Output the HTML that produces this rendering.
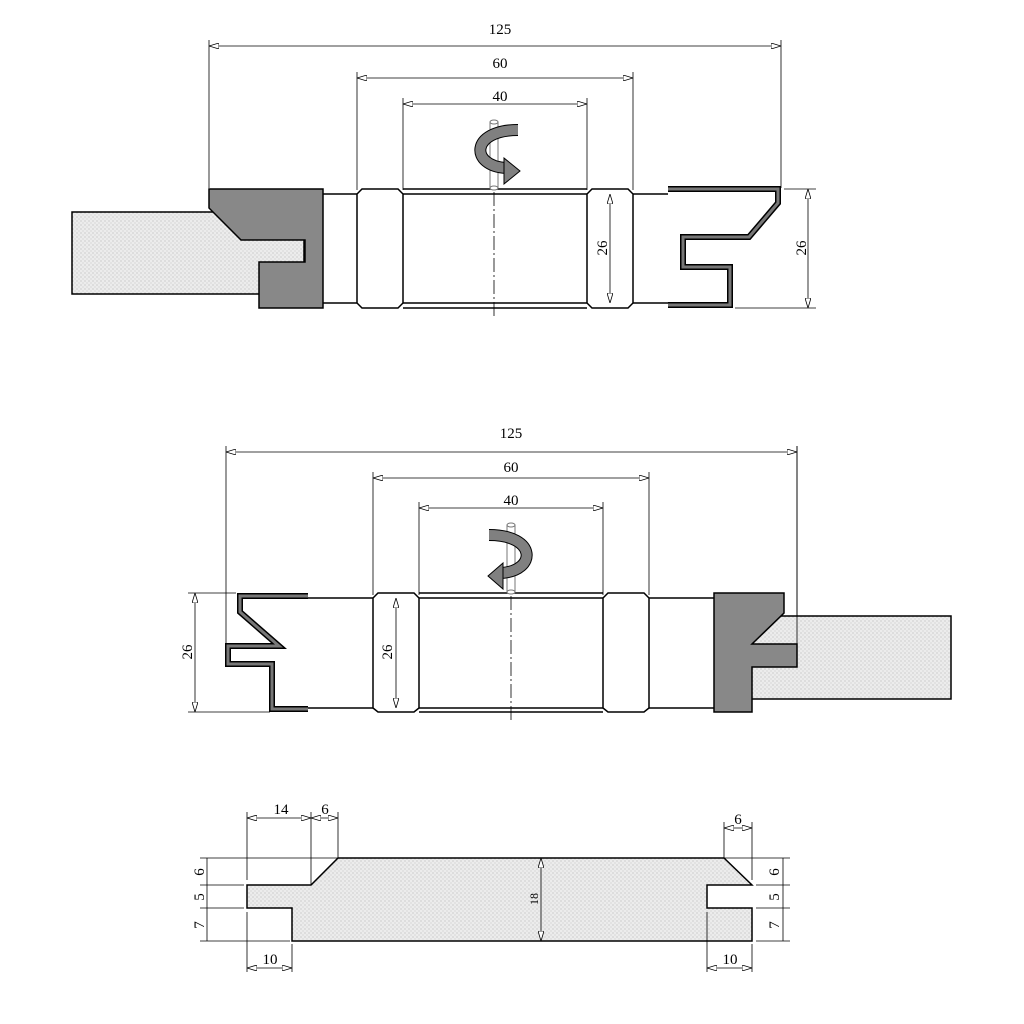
<!DOCTYPE html>
<html><head><meta charset="utf-8"><style>
html,body{margin:0;padding:0;background:#fff;}
svg{display:block;}
text{font-family:"Liberation Serif",serif;font-size:15px;fill:#000;}
</style></head><body>
<svg width="1024" height="1024" viewBox="0 0 1024 1024" xmlns="http://www.w3.org/2000/svg">
<defs>
<pattern id="dots" width="4" height="4" patternUnits="userSpaceOnUse">
<rect width="4" height="4" fill="#ececec"/>
<circle cx="1" cy="1" r="0.6" fill="#b8b8b8"/>
<circle cx="3" cy="3" r="0.6" fill="#c8c8c8"/>
</pattern>
<marker id="a" viewBox="0 0 10 6" refX="10" refY="3" markerWidth="10" markerHeight="6" orient="auto-start-reverse" markerUnits="userSpaceOnUse">
<path d="M0,0 L10,3 L0,6 Z" fill="#fff" stroke="#000" stroke-width="0.8"/>
</marker>
</defs>

<!-- ================= TOP DIAGRAM ================= -->
<g stroke="#000" stroke-width="0.8" fill="none">
<line x1="209" y1="40" x2="209" y2="188"/>
<line x1="781" y1="40" x2="781" y2="188"/>
<line x1="357" y1="72" x2="357" y2="190"/>
<line x1="633" y1="72" x2="633" y2="190"/>
<line x1="403" y1="98" x2="403" y2="190"/>
<line x1="587" y1="98" x2="587" y2="190"/>
<line x1="209" y1="46" x2="781" y2="46" marker-start="url(#a)" marker-end="url(#a)"/>
<line x1="357" y1="78" x2="633" y2="78" marker-start="url(#a)" marker-end="url(#a)"/>
<line x1="403" y1="104" x2="587" y2="104" marker-start="url(#a)" marker-end="url(#a)"/>
</g>
<text x="500" y="34" text-anchor="middle">125</text>
<text x="500" y="68" text-anchor="middle">60</text>
<text x="500" y="101" text-anchor="middle">40</text>

<!-- workpiece -->
<rect x="72" y="212" width="232" height="82" fill="url(#dots)" stroke="#000" stroke-width="1.5"/>
<!-- gray cutter -->
<path d="M209,189 L323,189 L323,308 L259,308 L259,262 L305,262 L305,240 L241,240 L209,208 Z" fill="#888" stroke="#000" stroke-width="1.5"/>
<!-- body -->
<g stroke="#000" stroke-width="1.5" fill="none">
<line x1="323" y1="194" x2="357" y2="194"/>
<line x1="323" y1="303" x2="357" y2="303"/>
<path d="M362,189 L398,189 L403,194 L403,303 L398,308 L362,308 L357,303 L357,194 Z"/>
<line x1="403" y1="189" x2="587" y2="189"/>
<line x1="403" y1="194" x2="587" y2="194"/>
<line x1="403" y1="303" x2="587" y2="303"/>
<line x1="403" y1="308" x2="587" y2="308"/>
<path d="M592,189 L628,189 L633,194 L633,303 L628,308 L592,308 L587,303 L587,194 Z"/>
<line x1="633" y1="194" x2="668" y2="194"/>
<line x1="633" y1="303" x2="668" y2="303"/>
</g>
<!-- right cutter outline -->
<path d="M668,189 L778,189 L778,203 L749,237 L683,237 L683,267 L730,267 L730,305 L668,305" fill="none" stroke="#000" stroke-width="6"/>
<path d="M668,189 L778,189 L778,203 L749,237 L683,237 L683,267 L730,267 L730,305 L668,305" fill="none" stroke="#777" stroke-width="3"/>
<!-- dims 26 -->
<g stroke="#000" stroke-width="0.8">
<line x1="784" y1="189" x2="816" y2="189"/>
<line x1="735" y1="308" x2="816" y2="308"/>
<line x1="808" y1="189" x2="808" y2="308" marker-start="url(#a)" marker-end="url(#a)"/>
<line x1="610" y1="194" x2="610" y2="303" marker-start="url(#a)" marker-end="url(#a)"/>
<line x1="494" y1="192" x2="494" y2="318" stroke-dasharray="14,3,2,3"/>
</g>
<text transform="translate(806,248) rotate(-90)" text-anchor="middle">26</text>
<text transform="translate(607,248) rotate(-90)" text-anchor="middle">26</text>
<!-- spindle & rotation arrow -->
<g>
<rect x="490" y="122" width="8" height="66" fill="#fff" stroke="#777" stroke-width="1"/>
<ellipse cx="494" cy="122" rx="4" ry="2" fill="#fff" stroke="#777" stroke-width="1"/>
<ellipse cx="494" cy="188" rx="4" ry="2" fill="#fff" stroke="#777" stroke-width="1"/>
<path d="M518,130 C470,130 470,166 506,168" fill="none" stroke="#000" stroke-width="12"/>
<path d="M518,130 C470,130 470,166 506,168" fill="none" stroke="#808080" stroke-width="10"/>
<polygon points="504,158 520,171 504,184" fill="#808080" stroke="#000" stroke-width="1"/>
</g>

<!-- ================= MIDDLE DIAGRAM ================= -->
<g stroke="#000" stroke-width="0.8" fill="none">
<line x1="226" y1="446" x2="226" y2="645"/>
<line x1="797" y1="446" x2="797" y2="644"/>
<line x1="373" y1="472" x2="373" y2="595"/>
<line x1="649" y1="472" x2="649" y2="595"/>
<line x1="419" y1="502" x2="419" y2="595"/>
<line x1="603" y1="502" x2="603" y2="595"/>
<line x1="226" y1="452" x2="797" y2="452" marker-start="url(#a)" marker-end="url(#a)"/>
<line x1="373" y1="478" x2="649" y2="478" marker-start="url(#a)" marker-end="url(#a)"/>
<line x1="419" y1="508" x2="603" y2="508" marker-start="url(#a)" marker-end="url(#a)"/>
</g>
<text x="511" y="438" text-anchor="middle">125</text>
<text x="511" y="472" text-anchor="middle">60</text>
<text x="511" y="505" text-anchor="middle">40</text>

<rect x="750" y="616" width="201" height="83" fill="url(#dots)" stroke="#000" stroke-width="1.5"/>
<path d="M714,593 L784,593 L784,613 L752,644 L797,644 L797,667 L752,667 L752,712 L714,712 Z" fill="#888" stroke="#000" stroke-width="1.5"/>
<line x1="797" y1="446" x2="797" y2="644" stroke="#000" stroke-width="0.8"/>
<g stroke="#000" stroke-width="1.5" fill="none">
<line x1="308" y1="598" x2="373" y2="598"/>
<line x1="308" y1="708" x2="373" y2="708"/>
<path d="M378,593 L414,593 L419,598 L419,708 L414,712 L378,712 L373,708 L373,598 Z"/>
<line x1="419" y1="593" x2="603" y2="593"/>
<line x1="419" y1="598" x2="603" y2="598"/>
<line x1="419" y1="708" x2="603" y2="708"/>
<line x1="419" y1="712" x2="603" y2="712"/>
<path d="M608,593 L644,593 L649,598 L649,708 L644,712 L608,712 L603,708 L603,598 Z"/>
<line x1="649" y1="598" x2="714" y2="598"/>
<line x1="649" y1="708" x2="714" y2="708"/>
</g>
<path d="M308,596 L240,596 L240,612 L279,646 L228,646 L228,664 L272,664 L272,709 L308,709" fill="none" stroke="#000" stroke-width="6"/>
<path d="M308,596 L240,596 L240,612 L279,646 L228,646 L228,664 L272,664 L272,709 L308,709" fill="none" stroke="#777" stroke-width="3"/>
<g stroke="#000" stroke-width="0.8">
<line x1="188" y1="593" x2="236" y2="593"/>
<line x1="188" y1="712" x2="270" y2="712"/>
<line x1="195" y1="593" x2="195" y2="712" marker-start="url(#a)" marker-end="url(#a)"/>
<line x1="396" y1="598" x2="396" y2="708" marker-start="url(#a)" marker-end="url(#a)"/>
<line x1="511" y1="596" x2="511" y2="722" stroke-dasharray="14,3,2,3"/>
</g>
<text transform="translate(192,652) rotate(-90)" text-anchor="middle">26</text>
<text transform="translate(392,652) rotate(-90)" text-anchor="middle">26</text>
<g>
<rect x="507" y="525" width="8" height="67" fill="#fff" stroke="#777" stroke-width="1"/>
<ellipse cx="511" cy="525" rx="4" ry="2" fill="#fff" stroke="#777" stroke-width="1"/>
<ellipse cx="511" cy="592" rx="4" ry="2" fill="#fff" stroke="#777" stroke-width="1"/>
<path d="M489,535 C537,535 537,571 501,573" fill="none" stroke="#000" stroke-width="12"/>
<path d="M489,535 C537,535 537,571 501,573" fill="none" stroke="#808080" stroke-width="10"/>
<polygon points="503,563 488,576 503,589" fill="#808080" stroke="#000" stroke-width="1"/>
</g>

<!-- ================= BOTTOM BOARD ================= -->
<path d="M338,858 L724,858 L752,885 L707,885 L707,908 L752,908 L752,941 L292,941 L292,908 L247,908 L247,885 L311,885 Z" fill="url(#dots)" stroke="#000" stroke-width="1.5"/>
<g stroke="#000" stroke-width="0.8" fill="none">
<line x1="200" y1="858" x2="338" y2="858"/>
<line x1="200" y1="885" x2="244" y2="885"/>
<line x1="200" y1="908" x2="244" y2="908"/>
<line x1="200" y1="941" x2="290" y2="941"/>
<line x1="724" y1="858" x2="790" y2="858"/>
<line x1="756" y1="885" x2="790" y2="885"/>
<line x1="756" y1="908" x2="790" y2="908"/>
<line x1="756" y1="941" x2="790" y2="941"/>
<line x1="207" y1="858" x2="207" y2="941"/>
<line x1="783" y1="858" x2="783" y2="941"/>
<line x1="247" y1="812" x2="247" y2="880"/>
<line x1="247" y1="912" x2="247" y2="972"/>
<line x1="311" y1="812" x2="311" y2="885"/>
<line x1="338" y1="812" x2="338" y2="858"/>
<line x1="292" y1="944" x2="292" y2="972"/>
<line x1="724" y1="822" x2="724" y2="858"/>
<line x1="752" y1="822" x2="752" y2="880"/>
<line x1="752" y1="944" x2="752" y2="972"/>
<line x1="707" y1="912" x2="707" y2="972"/>
<line x1="247" y1="818" x2="311" y2="818" marker-start="url(#a)" marker-end="url(#a)"/>
<line x1="311" y1="818" x2="338" y2="818" marker-start="url(#a)" marker-end="url(#a)"/>
<line x1="724" y1="828" x2="752" y2="828" marker-start="url(#a)" marker-end="url(#a)"/>
<line x1="247" y1="968" x2="292" y2="968" marker-start="url(#a)" marker-end="url(#a)"/>
<line x1="707" y1="968" x2="752" y2="968" marker-start="url(#a)" marker-end="url(#a)"/>
<line x1="541" y1="858" x2="541" y2="941" marker-start="url(#a)" marker-end="url(#a)"/>
</g>
<text x="281" y="814" text-anchor="middle">14</text>
<text x="325" y="814" text-anchor="middle">6</text>
<text x="738" y="824" text-anchor="middle">6</text>
<text x="270" y="964" text-anchor="middle">10</text>
<text x="730" y="964" text-anchor="middle">10</text>
<text transform="translate(538,899) rotate(-90)" text-anchor="middle" style="font-size:12px">18</text>
<text transform="translate(204,872) rotate(-90)" text-anchor="middle">6</text>
<text transform="translate(204,897) rotate(-90)" text-anchor="middle">5</text>
<text transform="translate(204,925) rotate(-90)" text-anchor="middle">7</text>
<text transform="translate(779,872) rotate(-90)" text-anchor="middle">6</text>
<text transform="translate(779,897) rotate(-90)" text-anchor="middle">5</text>
<text transform="translate(779,925) rotate(-90)" text-anchor="middle">7</text>
</svg>
</body></html>
